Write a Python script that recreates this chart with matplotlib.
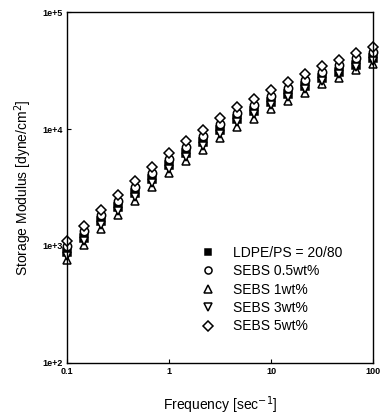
import numpy as np
import matplotlib
matplotlib.use('Agg')
import matplotlib.pyplot as plt

plt.rcParams['font.family'] = ['Liberation Sans', 'DejaVu Sans']

# frequency [1/sec], 6 points per decade
freq = [0.1, 0.147, 0.215, 0.316, 0.464, 0.681, 1.0, 1.47, 2.15, 3.16,
        4.64, 6.81, 10.0, 14.7, 21.5, 31.6, 46.4, 68.1, 100.0]

# storage modulus [dyne/cm^2]
blend = [880, 1180, 1620, 2140, 2820, 3710, 4890, 6200, 7700, 9760,
         12100, 14200, 17000, 19800, 23200, 27200, 30900, 35600, 40200]
sebs05 = [1000, 1350, 1850, 2430, 3210, 4230, 5580, 7070, 8780, 11100,
          13800, 16200, 19300, 22600, 26500, 31000, 35100, 40300, 45400]
sebs1 = [755, 1020, 1390, 1840, 2420, 3200, 4210, 5340, 6630, 8400,
         10400, 12300, 14800, 17400, 20500, 24100, 27500, 31800, 36200]
sebs3 = [820, 1110, 1520, 2000, 2640, 3480, 4580, 5810, 7220, 9140,
         11400, 13400, 16000, 18800, 22100, 25900, 29400, 33900, 38200]
sebs5 = [1112, 1496, 2050, 2703, 3565, 4700, 6195, 7850, 9750, 12350,
         15350, 17980, 21480, 25120, 29420, 34440, 38800, 44550, 50120]

series = [
    (blend, 's', 'black', 'LDPE/PS = 20/80'),
    (sebs05, 'o', 'white', 'SEBS 0.5wt%'),
    (sebs1, '^', 'white', 'SEBS 1wt%'),
    (sebs3, 'v', 'white', 'SEBS 3wt%'),
    (sebs5, 'D', 'white', 'SEBS 5wt%'),
]

fig = plt.figure(figsize=(3.83, 4.2), dpi=100)
ax = fig.add_axes([0.175, 0.136, 0.799, 0.835])

for y, m, fc, lab in series:
    ms = 5.5 if m in ('D', 's') else 6
    ax.plot(freq, y, linestyle='none', marker=m, markersize=ms,
            markerfacecolor=fc, markeredgecolor='black', markeredgewidth=1.1,
            label=lab, clip_on=False)

ax.set_xscale('log')
ax.set_yscale('log')
ax.set_xlim(0.1, 100)
ax.set_ylim(1e2, 1e5)

ax.set_xticks([0.1, 1, 10, 100])
ax.set_xticklabels(['0.1', '1', '10', '100'])
ax.set_yticks([1e2, 1e3, 1e4, 1e5])
ax.set_yticklabels(['1e+2', '1e+3', '1e+4', '1e+5'])
ax.minorticks_off()
ax.tick_params(direction='in', length=3, width=0.8, labelsize=6.5, pad=3)
for t in ax.get_xticklabels() + ax.get_yticklabels():
    t.set_fontweight('bold')

for s in ax.spines.values():
    s.set_linewidth(1.0)

ax.set_xlabel('Frequency [sec$^{-1}$]', fontsize=10, labelpad=13)
ax.set_ylabel('Storage Modulus [dyne/cm$^{2}$]', fontsize=10, labelpad=6)

ax.legend(loc='upper left', bbox_to_anchor=(0.42, 0.35), frameon=False,
          fontsize=10, handlelength=1.0, handletextpad=1.3, markerscale=0.85,
          labelspacing=0.32, borderaxespad=0)

fig.savefig('out.png', dpi=100)
